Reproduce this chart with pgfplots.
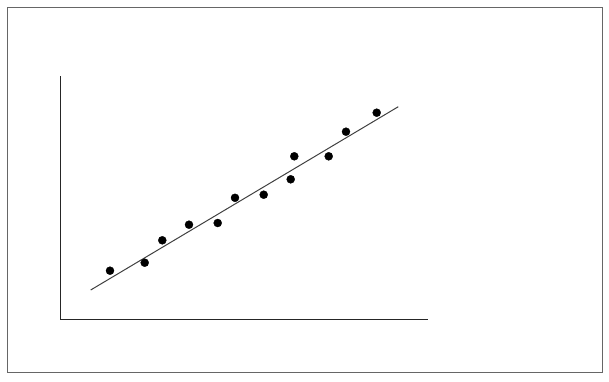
\documentclass[border=0pt]{standalone}
\usepackage{pgfplots}
\pgfplotsset{compat=1.18}
\begin{document}
\begin{tikzpicture}
\begin{axis}[
  x=1pt, y=1pt,
  xmin=60.7, xmax=428.3, ymin=61.5, ymax=305,
  axis lines=left,
  axis line style={-, line width=1.2pt, black!85},
  xtick=\empty, ytick=\empty,
  clip=false,
  anchor=origin, at={(0,0)},
]
\draw[line width=0.9pt, black!60] (axis cs:7,9) rectangle (axis cs:602,374);
\path (axis cs:0,0) rectangle (axis cs:609,381);
\addplot[no marks, line width=1pt, black!75] coordinates {(90.7,91) (398.3,274.3)};
\addplot[only marks, mark=*, mark size=4pt, black] coordinates {
(110,110.3) (144.7,118.3) (162.3,140.7) (189,156.3) (217.7,158) (235,183.2)
(263.7,186.3) (290.7,201.7) (294.3,224.7) (328.7,224.7) (346,249.3) (376.7,268.3)
};
\end{axis}
\end{tikzpicture}
\end{document}
